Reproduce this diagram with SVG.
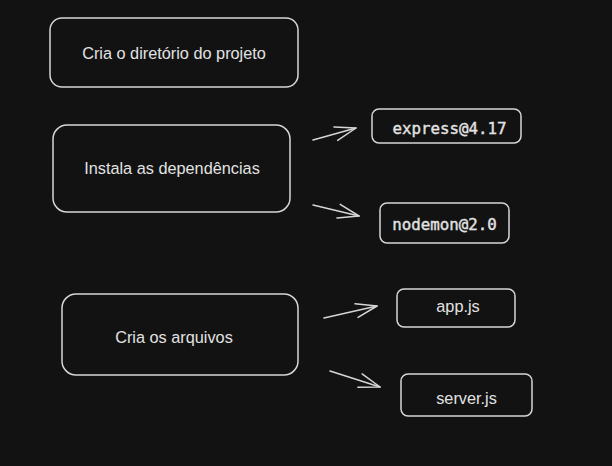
<svg xmlns="http://www.w3.org/2000/svg" width="612" height="466" viewBox="0 0 612 466">
<defs>
<style>
.box{fill:#121212;stroke:#d6d6d6;stroke-width:1.5}
.t{font-family:"Liberation Sans",Arial,sans-serif;font-size:16.3px;fill:#e2e2e2;text-anchor:middle;dominant-baseline:central}
.m{font-family:"DejaVu Sans Mono",monospace;font-size:15.8px;fill:#e2e2e2;stroke:#e2e2e2;stroke-width:0.4;text-anchor:middle;dominant-baseline:central}
.c{fill:none;stroke:#d6d6d6;stroke-width:1.5;stroke-linecap:round}
</style>
<marker id="ah" viewBox="0 0 24 20" refX="22" refY="10" markerWidth="24" markerHeight="20" markerUnits="userSpaceOnUse" orient="auto">
<path d="M1 3 L22 10 L1 17" fill="none" stroke="#d6d6d6" stroke-width="1.5" stroke-linecap="round" stroke-linejoin="round"/>
</marker>
</defs>
<rect width="612" height="466" fill="#121212"/>
<g id="n1"><rect class="box" x="50" y="18" width="248" height="69" rx="12"/><text class="t" x="174" y="53">Cria o diretório do projeto</text></g>
<g id="n2"><rect class="box" x="53" y="125" width="237" height="87" rx="14"/><text class="t" x="172" y="168">Instala as dependências</text></g>
<g id="n3"><rect class="box" x="372" y="109" width="149" height="34" rx="7"/><text class="m" x="449.5" y="128">express@4.17</text></g>
<g id="n4"><rect class="box" x="380" y="203" width="129" height="40" rx="7"/><text class="m" x="444.5" y="224">nodemon@2.0</text></g>
<g id="n5"><rect class="box" x="62" y="294" width="236" height="81" rx="14"/><text class="t" x="174" y="337">Cria os arquivos</text></g>
<g id="n6"><rect class="box" x="397" y="289" width="118" height="38" rx="7"/><text class="t" x="458" y="306">app.js</text></g>
<g id="n7"><rect class="box" x="401" y="374" width="131" height="42" rx="7"/><text class="t" x="466.5" y="398">server.js</text></g>
<g id="connectors">
<path class="c" d="M313 140 L356 128" marker-end="url(#ah)"/>
<path class="c" d="M313 205 L359 216" marker-end="url(#ah)"/>
<path class="c" d="M324 318 L377 306" marker-end="url(#ah)"/>
<path class="c" d="M330 371 L380 387" marker-end="url(#ah)"/>
</g>
</svg>
